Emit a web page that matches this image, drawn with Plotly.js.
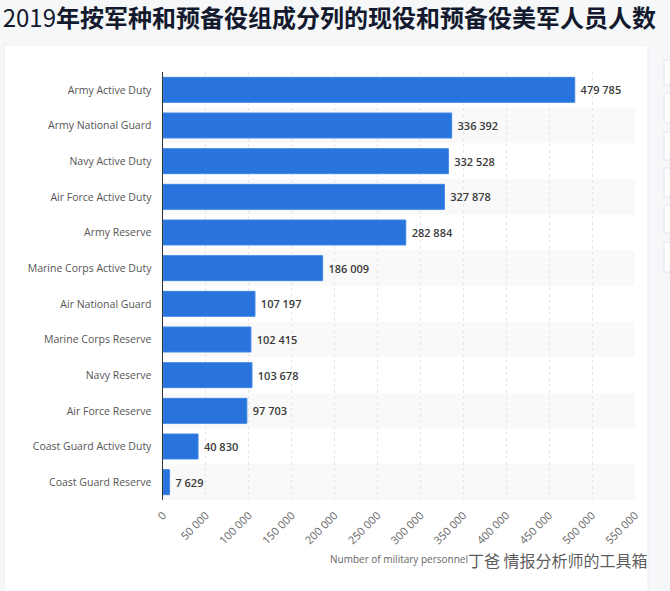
<!DOCTYPE html>
<html>
<head>
<meta charset="utf-8">
<script src="https://cdn.plot.ly/plotly-3.0.1.min.js"></script>
<style>
  html, body { margin: 0; padding: 0; background: #f6f7f9; }
  #chart { width: 670px; height: 591px; }
</style>
</head>
<body>
<div id="chart"></div>
<script>
var categories = [
  "Army Active Duty",
  "Army National Guard",
  "Navy Active Duty",
  "Air Force Active Duty",
  "Army Reserve",
  "Marine Corps Active Duty",
  "Air National Guard",
  "Marine Corps Reserve",
  "Navy Reserve",
  "Air Force Reserve",
  "Coast Guard Active Duty",
  "Coast Guard Reserve"
];
var personnel = [479785, 336392, 332528, 327878, 282884, 186009, 107197, 102415, 103678, 97703, 40830, 7629];
var xTicks = [0, 50000, 100000, 150000, 200000, 250000, 300000, 350000, 400000, 450000, 500000, 550000];

// plot area in pixels: x 163..635, y 72..500
function px(p) { return (p - 163) / 472; }
function py(p) { return (500 - p) / 428; }

var shapes = [];
// white card
shapes.push({
  type: "rect", layer: "below", xref: "paper", yref: "paper",
  x0: px(4), x1: px(648), y0: py(45), y1: py(600),
  fillcolor: "#ffffff", line: { color: "#eceef1", width: 1 }
});
// little side cards on the right edge
var sideBoxes = [[60, 85], [93, 123], [132, 160], [168, 197], [205, 233], [242, 272]];
sideBoxes.forEach(function (b) {
  shapes.push({
    type: "rect", layer: "below", xref: "paper", yref: "paper",
    x0: px(664), x1: px(680), y0: py(b[1]), y1: py(b[0]),
    fillcolor: "#ffffff", line: { color: "#e3e5e8", width: 1 }
  });
});
// alternating row bands
for (var i = 1; i < categories.length; i += 2) {
  shapes.push({
    type: "rect", layer: "below", xref: "paper", yref: "y",
    x0: 0, x1: 1, y0: i - 0.5, y1: i + 0.5,
    fillcolor: "#f9f9f9", line: { width: 0 }
  });
}

var trace = {
  type: "bar",
  orientation: "h",
  y: categories,
  x: personnel,
  marker: { color: "#2874dc", line: { color: "#3d86e6", width: 1 } },
  texttemplate: "\u00a0%{x:,}",
  textposition: "outside",
  cliponaxis: false,
  textfont: { family: "Open Sans", size: 11, color: "#3a3a3a", weight: 600 },
  hoverinfo: "none"
};

var layout = {
  width: 670,
  height: 591,
  separators: ". ",
  paper_bgcolor: "#f6f7f9",
  plot_bgcolor: "rgba(0,0,0,0)",
  margin: { l: 163, r: 35, t: 72, b: 91 },
  showlegend: false,
  bargap: 0.3,
  title: {
    text: "2019<b>年按军种和预备役组成分列的现役和预备役美军人员人数</b>",
    font: { family: "Noto Sans CJK SC", size: 24, color: "#131a2e" },
    x: 0.004, xanchor: "left", xref: "container",
    y: 0.969, yanchor: "middle"
  },
  xaxis: {
    range: [0, 550000],
    tickvals: xTicks,
    tickformat: ",",
    tickangle: -45,
    tickfont: { family: "Open Sans", size: 11, color: "#666666" },
    ticklabelstandoff: 6,
    showgrid: true,
    gridcolor: "#e6e6e6",
    griddash: "dot",
    zeroline: false,
    showline: false,
    ticks: "",
    automargin: false,
    title: {
      text: "Number of military personnel",
      font: { family: "Open Sans", size: 10, color: "#666666" },
      standoff: 9
    }
  },
  yaxis: {
    autorange: "reversed",
    type: "category",
    tickfont: { family: "Open Sans", size: 10.5, color: "#555555" },
    ticks: "",
    ticklabelstandoff: 8,
    showline: true,
    linecolor: "#333333",
    linewidth: 1.5,
    showgrid: false,
    zeroline: false,
    automargin: false
  },
  shapes: shapes,
  annotations: [{
    text: "丁爸 情报分析师的工具箱",
    xref: "paper", yref: "paper",
    x: px(650), y: py(560),
    xanchor: "right", yanchor: "middle",
    showarrow: false,
    font: { family: "Noto Sans CJK SC", size: 16, color: "rgba(60,60,60,0.85)" }
  }]
};

Plotly.newPlot("chart", [trace], layout, { displayModeBar: false, staticPlot: true });
</script>
</body>
</html>
